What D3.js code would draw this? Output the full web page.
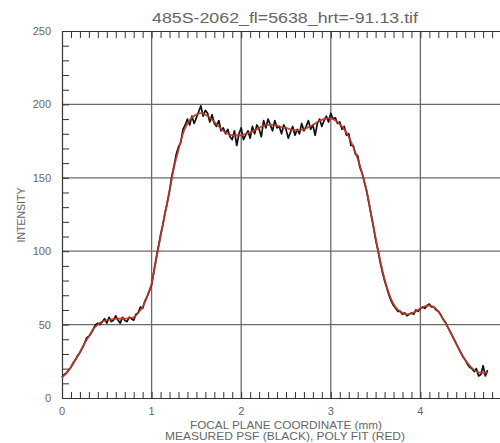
<!DOCTYPE html>
<html>
<head>
<meta charset="utf-8">
<script src="https://cdn.jsdelivr.net/npm/d3@7"></script>
<style>
  html, body { margin: 0; padding: 0; background: #fff; overflow: hidden; }
  svg { display: block; }
  text { font-family: "Liberation Sans", Arial, sans-serif; fill: #666; }
</style>
</head>
<body>
<svg id="chart" width="500" height="443"></svg>
<script>
// Measured PSF profile, sampled every 0.025 mm from 0 to 4.75 mm
const measuredStep = 0.025;
const measured = [
  14, 16, 17, 19, 21, 24, 26, 29, 31, 34, 37, 41, 42, 44, 47, 50,
  51, 50, 52, 54, 51, 55, 52, 53, 56, 53, 51, 55, 53, 52, 55, 54,
  53, 57, 58, 62, 61, 66, 69, 73, 77, 86, 95, 103, 111, 118, 126, 133,
  141, 151, 158, 166, 171, 174, 183, 186,
  190, 186, 192, 187, 191, 195, 199, 192, 196, 194, 188, 193, 187, 185, 189, 182,
  184, 180, 183, 178, 176, 182, 172, 180, 184, 176, 179, 182, 177, 185, 180, 186,
  183, 178, 189, 184, 190, 186, 182, 189, 184, 185, 180, 186, 183, 177, 181, 185,
  179, 183, 180, 187, 182, 185, 189, 183, 186, 179, 187, 190, 185, 189, 192, 188,
  194, 190, 191, 187, 188, 183, 185, 179,
  180, 172, 172, 166, 165, 157, 153, 147, 141, 133, 125, 117, 108, 101, 93, 86,
  80, 75, 70, 66, 63, 61, 59, 59, 57, 58, 56, 57, 58, 57, 60, 59,
  61, 62, 61, 63, 64, 62, 62, 60, 59, 57, 54, 52, 49, 46, 43, 40,
  37, 34, 31, 28, 26, 23, 21, 20, 18, 20, 15, 16, 22, 15, 19
];

// Polynomial fit, sampled every 0.05 mm
const fitStep = 0.05;
const fit = [
  14, 17, 21, 26, 31, 37, 42, 47, 50, 52, 53, 53.5, 54, 54, 54, 54.5,
  55, 58, 62, 69, 78, 94, 110, 126, 141, 157, 169, 180, 187, 191, 193, 194,
  193, 191, 188, 185, 182, 180, 179, 179, 179, 180, 181, 182.5, 184, 185.5, 186, 186,
  185.5, 184.5, 184, 183, 182.5, 182.5, 183, 184.5, 186, 188, 189.5, 190.5, 190.5, 189,
  186.5, 183, 178, 171, 163, 153, 141, 125, 109, 94, 81, 71, 64, 60, 58, 57,
  57.5, 59, 61, 62.5, 63, 62, 59, 54, 49, 43, 37, 31, 26, 22, 19, 17.5,
  17, 17.5
];

const xMajorTicks = [0, 1, 2, 3, 4];
const yMajorTicks = [0, 50, 100, 150, 200, 250];
const titleText = "485S-2062_fl=5638_hrt=-91.13.tif";
const xTitle = "FOCAL PLANE COORDINATE (mm)";
const xSubtitle = "MEASURED PSF (BLACK), POLY FIT (RED)";
const yTitle = "INTENSITY";

const svg = d3.select("#chart");
const plot = { left: 62, right: 510, top: 31, bottom: 398 };

const x = d3.scaleLinear().domain([0, 5]).range([plot.left, plot.right]);
const y = d3.scaleLinear().domain([0, 250]).range([plot.bottom, plot.top]);

// Grid lines at the major ticks
const grid = svg.append("g");
grid.selectAll("line.vx").data(xMajorTicks.slice(1)).join("line")
  .attr("x1", d => x(d)).attr("x2", d => x(d))
  .attr("y1", plot.top).attr("y2", plot.bottom)
  .attr("stroke", "#6a6a6a").attr("stroke-width", 1.3);
grid.selectAll("line.hy").data(yMajorTicks.slice(1, -1)).join("line")
  .attr("x1", plot.left).attr("x2", plot.right)
  .attr("y1", d => y(d)).attr("y2", d => y(d))
  .attr("stroke", "#6a6a6a").attr("stroke-width", 1.3);

// Minor ticks, pointing into the plot
const xMinor = d3.range(0, 51).map(i => i / 10);
const yMinor = d3.range(0, 26).map(i => i * 10);

const axisStyle = g => {
  g.select(".domain").attr("stroke", "#333").attr("stroke-width", 1.2);
  g.selectAll(".tick line").attr("stroke", "#333").attr("stroke-width", 1);
  g.selectAll(".tick text").remove();
};

svg.append("g").attr("transform", `translate(0,${plot.bottom})`)
  .call(d3.axisBottom(x).tickValues(xMinor).tickSizeInner(-6).tickSizeOuter(0))
  .call(axisStyle);
svg.append("g").attr("transform", `translate(0,${plot.top})`)
  .call(d3.axisTop(x).tickValues(xMinor).tickSizeInner(-7).tickSizeOuter(0))
  .call(axisStyle);
svg.append("g").attr("transform", `translate(${plot.left},0)`)
  .call(d3.axisLeft(y).tickValues(yMinor).tickSizeInner(-7).tickSizeOuter(0))
  .call(axisStyle);

// Tick labels
svg.selectAll("text.xt").data(xMajorTicks).join("text")
  .attr("x", d => x(d)).attr("y", 415)
  .attr("text-anchor", "middle").attr("font-size", 11)
  .text(d => d);
svg.selectAll("text.yt").data(yMajorTicks).join("text")
  .attr("x", 51).attr("y", d => y(d) + 4)
  .attr("text-anchor", "end").attr("font-size", 11)
  .text(d => d);

// Curves
const measuredPts = measured.map((v, i) => [i * measuredStep, v]);
const fitPts = fit.map((v, i) => [i * fitStep, v]);

svg.append("path")
  .attr("d", d3.line().x(d => x(d[0])).y(d => y(d[1]))(measuredPts))
  .attr("fill", "none").attr("stroke", "#111").attr("stroke-width", 1.7)
  .attr("stroke-linejoin", "round");

svg.append("path")
  .attr("d", d3.line().curve(d3.curveMonotoneX).x(d => x(d[0])).y(d => y(d[1]))(fitPts))
  .attr("fill", "none").attr("stroke", "#c0392b").attr("stroke-width", 1.8)
  .attr("stroke-opacity", 0.9);

// Titles
svg.append("text").attr("x", 285).attr("y", 23)
  .attr("text-anchor", "middle").attr("font-size", 14)
  .attr("textLength", 266).attr("lengthAdjust", "spacingAndGlyphs")
  .text(titleText);
svg.append("text").attr("x", 286).attr("y", 429)
  .attr("text-anchor", "middle").attr("font-size", 11)
  .attr("textLength", 192).attr("lengthAdjust", "spacingAndGlyphs")
  .text(xTitle);
svg.append("text").attr("x", 285).attr("y", 440)
  .attr("text-anchor", "middle").attr("font-size", 11)
  .attr("textLength", 240).attr("lengthAdjust", "spacingAndGlyphs")
  .text(xSubtitle);
svg.append("text")
  .attr("transform", "translate(25,215) rotate(-90)")
  .attr("text-anchor", "middle").attr("font-size", 10)
  .attr("textLength", 55).attr("lengthAdjust", "spacingAndGlyphs")
  .text(yTitle);
</script>
</body>
</html>
